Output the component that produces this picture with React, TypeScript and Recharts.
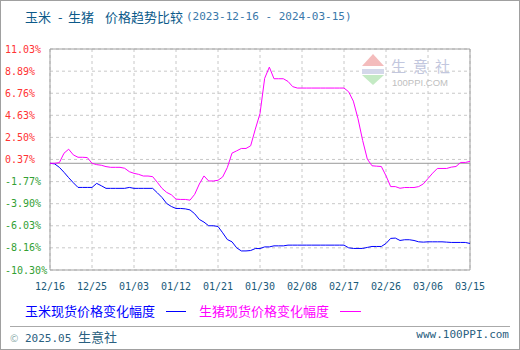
import React from 'react'
import { LineChart, Line, XAxis, YAxis, CartesianGrid, ReferenceLine, ReferenceArea } from 'recharts'

// daily dates 2023-12-16 .. 2024-03-15
const startDate = new Date(2023, 11, 16)
const dates: string[] = Array.from({ length: 91 }, (_, i) => {
    const d = new Date(startDate.getTime() + i * 86400000)
    return `${String(d.getMonth() + 1).padStart(2, '0')}/${String(d.getDate()).padStart(2, '0')}`
})

const xTicks = ['12/16', '12/25', '01/03', '01/12', '01/21', '01/30', '02/08', '02/17', '02/26', '03/06', '03/15']
const yTicks = [11.03, 8.89, 6.76, 4.63, 2.5, 0.37, -1.77, -3.9, -6.03, -8.16, -10.3]

// 玉米现货价格变化幅度 (%)
const corn = [
    0, -0.06, -0.39, -0.87, -1.39, -1.88, -2.33, -2.33, -2.33, -2.33,
    -1.94, -2.17, -2.42, -2.42, -2.42, -2.42, -2.42, -2.33, -2.42, -2.42,
    -2.42, -2.42, -2.42, -2.85, -3.3, -3.88, -4.17, -4.36, -4.36, -4.4,
    -4.5, -4.87, -5.42, -5.68, -6.03, -6.03, -6.1, -6.71, -7.36, -7.58,
    -8.16, -8.46, -8.46, -8.42, -8.23, -8.23, -8.07, -8.07, -7.97, -7.97,
    -7.97, -7.9, -7.9, -7.9, -7.9, -7.9, -7.9, -7.9, -7.9, -7.9,
    -7.9, -7.9, -7.9, -7.9, -8.16, -8.22, -8.22, -8.22, -8.12, -8.03,
    -8.03, -8.03, -7.74, -7.25, -7.22, -7.45, -7.38, -7.38, -7.45, -7.58,
    -7.61, -7.58, -7.58, -7.58, -7.58, -7.61, -7.64, -7.64, -7.64, -7.64,
    -7.74,
]

// 生猪现货价格变化幅度 (%)
const hog = [
    0, 0, 0.06, 0.97, 1.36, 0.81, 0.58, 0.58, 0.55, 0,
    -0.13, -0.19, -0.32, -0.39, -0.39, -0.39, -0.48, -0.81, -0.97, -1.07,
    -1.23, -1.23, -1.29, -1.84, -2.42, -2.81, -3.04, -3.46, -3.49, -3.49,
    -3.56, -3.0, -2.0, -1.22, -1.71, -1.71, -1.64, -1.32, -0.41, 0.98,
    1.2, 1.43, 1.43, 1.69, 3.3, 4.8, 8.2, 9.28, 8.16, 8.16,
    8.16, 7.9, 7.4, 7.26, 7.26, 7.26, 7.26, 7.26, 7.26, 7.26,
    7.26, 7.26, 7.26, 7.26, 6.9, 6.0, 4.3, 2.2, 0.4, -0.24,
    -0.28, -0.31, -1.21, -2.25, -2.25, -2.41, -2.34, -2.34, -2.34, -2.25,
    -1.99, -1.47, -0.95, -0.5, -0.5, -0.5, -0.37, -0.31, 0.08, 0.08,
    0.18,
]

const data = dates.map((date, i) => ({ date, corn: corn[i], hog: hog[i] }))

const mono = '"DejaVu Sans Mono", monospace'
const cjk = '"Noto Sans CJK SC", "Noto Sans", sans-serif'

function YTick(props: any) {
    const v = props.payload.value as number
    return (
        <text x={5} y={props.y} dy="0.35em" textAnchor="start" fontSize={10} fontFamily={mono}
            fill={v >= 0 ? '#ff3333' : '#33a033'}>
            {v.toFixed(2)}%
        </text>
    )
}

const titleStyle: React.CSSProperties = { position: 'absolute', top: 7, height: 20, lineHeight: '20px', fontSize: 13, color: '#0c5a8a', whiteSpace: 'nowrap' }

export default function App() {
    return (
        <div style={{ position: 'absolute', left: 0, top: 0, width: 520, height: 350, background: '#fff', fontFamily: cjk }}>
            {/* title */}
            <div style={{ ...titleStyle, left: 25 }}>玉米</div>
            <div style={{ ...titleStyle, left: 58 }}>-</div>
            <div style={{ ...titleStyle, left: 68 }}>生猪</div>
            <div style={{ ...titleStyle, left: 105 }}>价格趋势比较</div>
            <div style={{ ...titleStyle, left: 186, fontSize: 11, color: '#3a78aa', fontFamily: mono }}>(2023-12-16 - 2024-03-15)</div>

            <LineChart width={520} height={350} data={data} margin={{ top: 49, right: 50, bottom: 50, left: 0 }}
                style={{ position: 'absolute', left: 0, top: 0 }}>
                <CartesianGrid strokeDasharray="3 3" stroke="#c8c8c8" />
                <XAxis dataKey="date" ticks={xTicks} interval={0} height={30} axisLine={false} tickLine={false}
                    tickMargin={7} tick={{ fontSize: 10, fontFamily: mono, fill: '#1a5a7a' }} />
                <YAxis width={50} domain={[-10.3, 11.03]} ticks={yTicks} axisLine={false} tickLine={false}
                    tick={<YTick />} interval={0} />
                <ReferenceArea x1={dates[0]} x2={dates[dates.length - 1]} y1={-10.3} y2={11.03}
                    fill="none" stroke="#a0a0a0" strokeWidth={1} />
                <ReferenceLine y={0} stroke="#999" strokeWidth={1} />
                <Line type="linear" dataKey="corn" stroke="#0000ff" strokeWidth={1} dot={false} isAnimationActive={false} />
                <Line type="linear" dataKey="hog" stroke="#ff00ff" strokeWidth={1} dot={false} isAnimationActive={false} />
            </LineChart>

            {/* watermark */}
            <div style={{ position: 'absolute', left: 362, top: 54, pointerEvents: 'none' }}>
                <div style={{ width: 0, height: 0, borderLeft: '11px solid transparent', borderRight: '11px solid transparent', borderBottom: '12px solid #f4bcbc' }} />
                <div style={{ width: 22, height: 3 }} />
                <div style={{ width: 22, height: 5, background: '#d4d8ea' }} />
                <div style={{ width: 22, height: 1 }} />
                <div style={{ width: 0, height: 0, borderLeft: '11px solid transparent', borderRight: '11px solid transparent', borderTop: '10px solid #c4eac4' }} />
            </div>
            <div style={{ position: 'absolute', left: 391, top: 57, fontSize: 15, lineHeight: '17px', color: '#c2c7de', letterSpacing: 7, pointerEvents: 'none', whiteSpace: 'nowrap' }}>生意社</div>
            <div style={{ position: 'absolute', left: 392, top: 78, fontSize: 9.5, lineHeight: '10px', color: '#c0c0c0', fontFamily: '"Liberation Sans", sans-serif', pointerEvents: 'none' }}>100PPI.COM</div>

            {/* legend */}
            <div style={{ position: 'absolute', left: 25, top: 301, height: 20, lineHeight: '20px', fontSize: 13, color: '#0000ff', whiteSpace: 'nowrap' }}>玉米现货价格变化幅度</div>
            <div style={{ position: 'absolute', left: 166, top: 311, width: 20, height: 1, background: '#0000ff' }} />
            <div style={{ position: 'absolute', left: 199, top: 301, height: 20, lineHeight: '20px', fontSize: 13, color: '#ff00ff', whiteSpace: 'nowrap' }}>生猪现货价格变化幅度</div>
            <div style={{ position: 'absolute', left: 340, top: 311, width: 21, height: 1, background: '#ff00ff' }} />

            {/* footer */}
            <div style={{ position: 'absolute', left: 10, top: 326, width: 500, height: 1, background: '#aaa' }} />
            <div style={{ position: 'absolute', left: 10, top: 326, height: 18, lineHeight: '18px', whiteSpace: 'nowrap', color: '#2a6080' }}>
                <span style={{ fontSize: 10, color: '#8aa' }}>©</span>
                <span style={{ fontSize: 11, fontFamily: mono }}> 2025.05 </span>
                <span style={{ fontSize: 13 }}>生意社</span>
            </div>
            <div style={{ position: 'absolute', right: 11, top: 326, height: 18, lineHeight: '18px', fontSize: 11, fontFamily: mono, color: '#2a6080' }}>www.100PPI.com</div>

            <div style={{ position: 'absolute', left: 0, top: 0, width: 520, height: 350, boxSizing: 'border-box', border: '1px solid #a0a0a0', pointerEvents: 'none' }} />
        </div>
    )
}
